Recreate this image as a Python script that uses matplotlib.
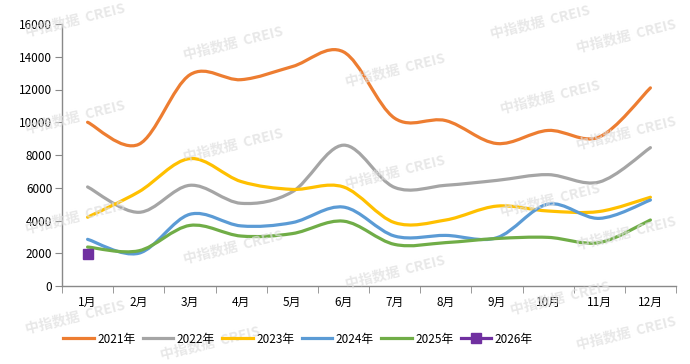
import numpy as np
import matplotlib
matplotlib.use('Agg')
import matplotlib.pyplot as plt
from matplotlib.path import Path
from matplotlib.patches import PathPatch
from matplotlib.lines import Line2D

plt.rcParams['font.family'] = ['Noto Sans CJK SC', 'DejaVu Sans']

# 01 - Data
months = ['1月', '2月', '3月', '4月', '5月', '6月', '7月', '8月', '9月', '10月', '11月', '12月']
y2021 = [10000, 8650, 12900, 12600, 13400, 14300, 10250, 10100, 8700, 9500, 9100, 12100]
y2022 = [6050, 4500, 6150, 5050, 5750, 8600, 6020, 6150, 6450, 6800, 6350, 8450]
y2023 = [4200, 5750, 7780, 6380, 5900, 6050, 3870, 4030, 4880, 4580, 4550, 5420]
y2024 = [2850, 2000, 4380, 3670, 3870, 4820, 3050, 3090, 2950, 5000, 4130, 5250]
y2025 = [2380, 2150, 3700, 3050, 3200, 3960, 2540, 2650, 2900, 2970, 2650, 4030]
y2026 = [1950]

series = [('2021年', y2021, '#ED7D31'),
          ('2022年', y2022, '#A5A5A5'),
          ('2023年', y2023, '#FFC000'),
          ('2024年', y2024, '#5B9BD5'),
          ('2025年', y2025, '#70AD47')]
c2026 = '#7030A0'


def smooth_path(xs, ys):
    # excel-like smoothed line: cubic bezier through the points
    pts = np.column_stack([xs, ys]).astype(float)
    n = len(pts)
    verts = [pts[0]]
    codes = [Path.MOVETO]
    for i in range(n - 1):
        p0 = pts[i - 1] if i > 0 else pts[i]
        p1 = pts[i]
        p2 = pts[i + 1]
        p3 = pts[i + 2] if i + 2 < n else pts[i + 1]
        verts += [p1 + (p2 - p0) / 6, p2 - (p3 - p1) / 6, p2]
        codes += [Path.CURVE4] * 3
    return Path(verts, codes)


# 02 - Figure
fig = plt.figure(figsize=(6.9, 3.64), dpi=100)
ax = fig.add_axes([62 / 690, 1 - 286 / 364, 614 / 690, 262 / 364])

x = np.arange(len(months))
for name, vals, col in series:
    ax.add_patch(PathPatch(smooth_path(x, vals), fill=False, edgecolor=col,
                           lw=2.3, capstyle='round', joinstyle='round', zorder=3))
ax.plot(x[:len(y2026)], y2026, 's', color=c2026, ms=7, zorder=4)

ax.set_xlim(-0.5, 11.5)
ax.set_ylim(0, 16000)
ax.set_yticks(np.arange(0, 16001, 2000))
ax.set_xticks(x)
ax.set_xticklabels(months)
ax.set_xticks(np.arange(-0.5, 12, 1), minor=True)
ax.tick_params(axis='x', which='major', length=0, pad=7, labelsize=8.5)
ax.tick_params(axis='x', which='minor', length=5, color='#898989')
ax.tick_params(axis='y', length=5, color='#898989', labelsize=8.5, pad=2)
for s in ['top', 'right']:
    ax.spines[s].set_visible(False)
for s in ['left', 'bottom']:
    ax.spines[s].set_color('#898989')
    ax.spines[s].set_linewidth(1)

# watermarks (kept inside the canvas)
wm = [(75, 20), (75, 117), (75, 217), (75, 317),
      (233, 43), (233, 145), (233, 247), (210, 343),
      (395, 70), (395, 172), (395, 272),
      (540, 22), (550, 97), (550, 200), (560, 298),
      (626, 36), (626, 133), (626, 233), (626, 333)]
for px, py in wm:
    fig.text(px / 690, 1 - py / 364, '中指数据  CREIS', rotation=14, fontsize=10,
             fontweight='bold', color='#dedede', alpha=0.7, ha='center', va='center', zorder=0)

# legend
handles = [Line2D([], [], color=c, lw=2.3) for _, _, c in series]
handles.append(Line2D([], [], color=c2026, lw=2.3, marker='s', ms=7))
labels = [n for n, _, _ in series] + ['2026年']
fig.legend(handles, labels, loc='center', bbox_to_anchor=(298 / 690, 1 - 339 / 364), ncol=6,
           frameon=False, fontsize=8.5, handlelength=2.6, handletextpad=0.3, columnspacing=0.6)

fig.savefig('out.png', dpi=100)
